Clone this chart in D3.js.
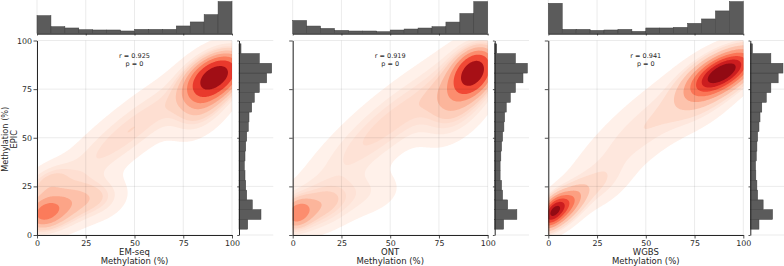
<!DOCTYPE html>
<html>
<head>
<meta charset="utf-8">
<script src="https://cdn.jsdelivr.net/npm/d3@7"></script>
<style>
  body { margin: 0; background: #fff; }
  svg { display: block; }
  text { font-family: "DejaVu Sans", sans-serif; fill: #262626; }
</style>
</head>
<body>
<svg width="784" height="266"></svg>
<script>
// ---- data ----
var methods = ["EM-seq", "ONT", "WGBS"];
var pearsonR = ["0.925", "0.919", "0.941"];
var pValues = ["0", "0", "0"];
var axisTicks = [0, 25, 50, 75, 100];

// top marginals: 14 bins over 0-100 (relative counts)
var topHistEmseq = [18, 7, 5.7, 4, 3.7, 3.7, 2.7, 4.3, 4.3, 4.3, 7.7, 11.7, 19, 32];
var topHistOnt   = [13.3, 7.7, 5.3, 3.3, 2.7, 2.7, 2, 3.7, 4.7, 5.7, 7, 11.7, 20.3, 32.3];
var topHistWgbs  = [30.3, 4.3, 4.3, 3.3, 3.7, 4.3, 2.3, 5.7, 5.7, 6.3, 10.3, 14.7, 22.7, 32];

// right marginals (EPIC): 19 bins over 3-98.3, low to high (relative counts)
var epicBinRange = [3, 98.3];
var epicHistEmseq = [8.7, 22, 13.3, 7.7, 6.7, 6, 5.3, 6, 6.7, 7.7, 9.3, 10, 12.7, 15.3, 20.3, 27.7, 32.7, 20.3, 2];
var epicHistOnt   = [8.7, 21.7, 12.7, 7.7, 6.7, 5.3, 5.3, 6, 6.7, 7.7, 9, 9.7, 11.3, 15.3, 20.3, 27.7, 32, 20.3, 2];
var epicHistWgbs  = [8.3, 21.3, 12.3, 7, 6.3, 5.3, 5, 5.7, 6.3, 7, 8.3, 9.3, 11, 15.3, 19.7, 26.7, 31.3, 19.7, 2];

// kde shape, estimated as gaussian blobs: [meanX, meanY, sdX, sdY, corr, weight]
var kdeEmseq = [
  [92, 82, 9, 7, 0.4, 0.28],
  [87, 73, 10, 12, 0.5, 0.21],
  [48, 54, 27, 22, 0.9, 0.28],
  [3, 11, 6.5, 5.5, 0.2, 0.06],
  [12, 14, 11, 8, 0.35, 0.14],
  [32, 19, 9, 7, 0.2, 0.05],
  [5, 28, 8, 6, 0.5, 0.035]
];
var kdeOnt = [
  [93, 84, 6.5, 7, 0.3, 0.24],
  [86, 73, 11, 13, 0.5, 0.24],
  [50, 58, 26, 22, 0.88, 0.32],
  [2, 11, 5, 5, 0.2, 0.05],
  [12, 14, 12, 8, 0.4, 0.13],
  [38, 22, 12, 8, 0.2, 0.04]
];
var kdeWgbs = [
  [90, 84, 11, 7.5, 0.6, 0.38],
  [82, 74, 12, 11, 0.6, 0.12],
  [50, 56, 25, 22, 0.85, 0.24],
  [2, 12, 4.5, 5.5, 0.5, 0.08],
  [8, 14, 7, 7, 0.6, 0.12],
  [25, 25, 10, 8, 0.5, 0.04]
];

var topHists = [topHistEmseq, topHistOnt, topHistWgbs];
var epicHists = [epicHistEmseq, epicHistOnt, epicHistWgbs];
var kdes = [kdeEmseq, kdeOnt, kdeWgbs];

// ---- layout ----
var svg = d3.select("svg");
var panelLeft = [37, 292.7, 548.3];
var mainW = 195, mainTop = 40.5, mainBottom = 235;
var margTop = 0, margBottom = 33.7;
var spineColor = "#262626";
var barFill = "#5b5b5b", barEdge = "#3d3d3d";

// density grid used for the contours
var gx0 = -25, gstep = 0.5, gn = 301;
function densityGrid(comps) {
  var vals = new Float64Array(gn * gn);
  comps.forEach(function(c) {
    var mx = c[0], my = c[1], sx = c[2], sy = c[3], r = c[4], w = c[5];
    var k = w / (2 * Math.PI * sx * sy * Math.sqrt(1 - r * r)), q = -1 / (2 * (1 - r * r));
    for (var j = 0; j < gn; j++) {
      var dy = (gx0 + j * gstep - my) / sy;
      for (var i = 0; i < gn; i++) {
        var dx = (gx0 + i * gstep - mx) / sx;
        vals[j * gn + i] += k * Math.exp(q * (dx * dx - 2 * r * dx * dy + dy * dy));
      }
    }
  });
  return vals;
}
// iso-proportion levels, like seaborn (thresh 0.05, 10 levels)
function isoLevels(vals) {
  var sorted = Array.from(vals).sort(function(a, b) { return b - a; });
  var total = d3.sum(sorted), cum = 0;
  var cums = sorted.map(function(v) { return (cum += v) / total; });
  return d3.range(10).map(function(i) {
    var p = 0.05 + i * 0.95 / 9;
    return sorted[Math.min(d3.bisectLeft(cums, 1 - p), sorted.length - 1)];
  });
}

panelLeft.forEach(function(ox, p) {
  var x = d3.scaleLinear().domain([0, 100]).range([ox, ox + mainW]);
  var y = d3.scaleLinear().domain([0, 100]).range([mainBottom, mainTop]);
  var rLeft = ox + 202;
  var topCounts = topHists[p], epicCounts = epicHists[p];
  var yTop = d3.scaleLinear().domain([0, d3.max(topCounts) * 1.05]).range([margBottom, margTop]);
  var xRight = d3.scaleLinear().domain([0, d3.max(epicCounts) * 1.05]).range([rLeft, rLeft + 34.3]);
  var g = svg.append("g");

  // kde contours
  var clipId = "clip" + p;
  g.append("clipPath").attr("id", clipId).append("rect")
    .attr("x", ox).attr("y", mainTop).attr("width", mainW).attr("height", mainBottom - mainTop);
  var vals = densityGrid(kdes[p]);
  var levels = isoLevels(vals);
  var lo = levels[0], hi = levels[9];
  var bands = d3.contours().size([gn, gn]).thresholds(levels.slice(0, 9))(vals);
  var path = d3.geoPath(d3.geoTransform({
    point: function(px, py) {
      this.stream.point(x(gx0 + (px - 0.5) * gstep), y(gx0 + (py - 0.5) * gstep));
    }
  }));
  g.append("g").attr("clip-path", "url(#" + clipId + ")")
    .selectAll("path").data(bands).enter().append("path")
    .attr("d", path)
    .attr("fill", function(d, i) {
      return d3.interpolateReds(((levels[i] + levels[i + 1]) / 2 - lo) / (hi - lo));
    });

  // grid lines (faint, over the fills)
  var grid = g.append("g").attr("stroke", "#000").attr("stroke-opacity", 0.1).attr("stroke-width", 0.8);
  axisTicks.forEach(function(t) {
    grid.append("line").attr("x1", x(t)).attr("x2", x(t)).attr("y1", mainTop).attr("y2", mainBottom);
    grid.append("line").attr("x1", ox).attr("x2", ox + mainW).attr("y1", y(t)).attr("y2", y(t));
    grid.append("line").attr("x1", x(t)).attr("x2", x(t)).attr("y1", margTop).attr("y2", margBottom);
    grid.append("line").attr("x1", xRight.range()[0]).attr("x2", xRight.range()[1]).attr("y1", y(t)).attr("y2", y(t));
  });

  // top histogram
  var topEdges = d3.range(15).map(function(i) { return i * 100 / 14; });
  g.append("g").selectAll("rect").data(topCounts).enter().append("rect")
    .attr("x", function(d, i) { return x(topEdges[i]); })
    .attr("width", function(d, i) { return x(topEdges[i + 1]) - x(topEdges[i]); })
    .attr("y", function(d) { return yTop(d); })
    .attr("height", function(d) { return margBottom - yTop(d); })
    .attr("fill", barFill).attr("stroke", barEdge).attr("stroke-width", 0.5);

  // right histogram
  var epicEdges = d3.range(20).map(function(i) {
    return epicBinRange[0] + i * (epicBinRange[1] - epicBinRange[0]) / 19;
  });
  g.append("g").selectAll("rect").data(epicCounts).enter().append("rect")
    .attr("x", rLeft)
    .attr("width", function(d) { return xRight(d) - rLeft; })
    .attr("y", function(d, i) { return y(epicEdges[i + 1]); })
    .attr("height", function(d, i) { return y(epicEdges[i]) - y(epicEdges[i + 1]); })
    .attr("fill", barFill).attr("stroke", barEdge).attr("stroke-width", 0.5);

  // axes
  function styleAxis(sel) {
    sel.select(".domain").attr("stroke", spineColor).attr("stroke-width", 1);
    sel.selectAll(".tick line").attr("stroke", spineColor).attr("stroke-width", 0.8);
    sel.selectAll("text").attr("font-size", 7.9).attr("font-family", "DejaVu Sans").attr("fill", "#262626");
  }
  g.append("g").attr("transform", "translate(0," + mainBottom + ")")
    .call(d3.axisBottom(x).tickValues(axisTicks).tickSize(3.5).tickSizeOuter(0).tickPadding(1.5))
    .call(styleAxis);
  var yAxis = d3.axisLeft(y).tickValues(axisTicks).tickSize(3.5).tickSizeOuter(0).tickPadding(1.5);
  if (p > 0) yAxis.tickFormat("");
  g.append("g").attr("transform", "translate(" + ox + ",0)").call(yAxis).call(styleAxis);
  g.append("g").attr("transform", "translate(0," + margBottom + ")")
    .call(d3.axisBottom(x).tickValues(axisTicks).tickSize(1.8).tickSizeOuter(0).tickFormat(""))
    .call(styleAxis);
  g.append("g").attr("transform", "translate(" + rLeft + ",0)")
    .call(d3.axisLeft(y).tickValues(axisTicks).tickSize(1.8).tickSizeOuter(0).tickFormat(""))
    .call(styleAxis);

  // labels
  var cx = x(50);
  g.append("text").attr("x", cx).attr("y", 57.5).attr("text-anchor", "middle")
    .attr("font-size", 6.5).text("r = " + pearsonR[p]);
  g.append("text").attr("x", cx).attr("y", 65.5).attr("text-anchor", "middle")
    .attr("font-size", 6.5).text("p = " + pValues[p]);
  g.append("text").attr("x", cx).attr("y", 254.5).attr("text-anchor", "middle")
    .attr("font-size", 8.5).text(methods[p]);
  g.append("text").attr("x", cx).attr("y", 264).attr("text-anchor", "middle")
    .attr("font-size", 8.5).text("Methylation (%)");
});

// shared y label
var yMid = (mainTop + mainBottom) / 2 + 1.5;
svg.append("text").attr("transform", "translate(8.3," + yMid + ") rotate(-90)")
  .attr("text-anchor", "middle").attr("font-size", 8.2).text("Methylation (%)");
svg.append("text").attr("transform", "translate(16.8," + yMid + ") rotate(-90)")
  .attr("text-anchor", "middle").attr("font-size", 8.2).text("EPIC");
</script>
</body>
</html>
